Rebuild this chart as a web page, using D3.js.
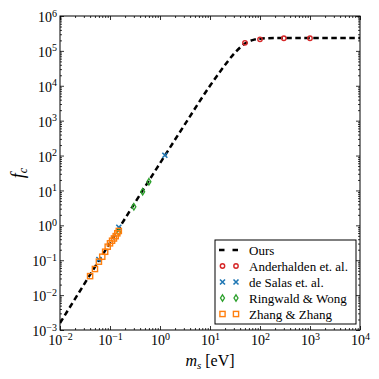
<!DOCTYPE html>
<html><head><meta charset="utf-8">
<script src="https://cdn.jsdelivr.net/npm/d3@7"></script>
<style>body{margin:0;background:#fff} svg{display:block}</style>
</head><body><svg id="c" width="379" height="379"></svg>
<script>
// ---- data ----
const curveM = [0.01, 0.0316, 0.1, 0.316, 1, 3.16, 10, 17.8, 31.6, 50, 70.8, 100, 200, 1000, 10000];
const curveF = [1.58e-3, 0.0224, 0.316, 4.47, 60.3, 794, 1.0e4, 3.16e4, 8.9e4, 1.62e5, 2.04e5, 2.24e5, 2.34e5, 2.34e5, 2.34e5];

const anderM = [50, 100, 300, 1000];
const anderF = [1.7e5, 2.15e5, 2.3e5, 2.3e5];

const salasM = [0.06, 0.15, 1.25];
const salasF = [0.105, 0.88, 102];

const rwM = [0.15, 0.3, 0.45, 0.6];
const rwF = [0.63, 3.4, 9.2, 17.8];

const zzM = [0.04, 0.05, 0.06, 0.07, 0.08, 0.09, 0.10, 0.11, 0.12, 0.13, 0.14, 0.15];
const zzF = [0.035, 0.056, 0.091, 0.126, 0.175, 0.244, 0.305, 0.362, 0.42, 0.49, 0.59, 0.69];

const xTicks = [1e-2, 1e-1, 1, 10, 100, 1000, 1e4];
const xExp = ["\u22122", "\u22121", "0", "1", "2", "3", "4"];
const yTicks = [1e-3, 1e-2, 1e-1, 1, 10, 100, 1000, 1e4, 1e5, 1e6];
const yExp = ["\u22123", "\u22122", "\u22121", "0", "1", "2", "3", "4", "5", "6"];

const legendLabels = ["Ours", "Anderhalden et. al.", "de Salas et. al.", "Ringwald & Wong", "Zhang & Zhang"];
const colors = {red: "#d62728", blue: "#1f77b4", green: "#2ca02c", orange: "#ff7f0e"};

// ---- layout ----
const L = 60, R = 360, T = 16, B = 330;
const FONT = "'Liberation Serif', 'DejaVu Serif', serif";
const svg = d3.select("#c");
const x = d3.scaleLog().domain([1e-2, 1e4]).range([L, R]);
const y = d3.scaleLog().domain([1e-3, 1e6]).range([B, T]);

const xMinor = x.ticks().filter(v => !xTicks.some(t => Math.abs(t - v) / t < 1e-9));
const yMinor = y.ticks().filter(v => !yTicks.some(t => Math.abs(t - v) / t < 1e-9));

function styleAxis(g) {
  g.select(".domain").remove();
  g.selectAll("line").attr("stroke", "#000").attr("stroke-width", 0.8);
}

// minor ticks, all four sides
svg.append("g").attr("transform", `translate(0,${B})`).call(d3.axisBottom(x).tickValues(xMinor).tickSize(-2).tickFormat("")).call(styleAxis);
svg.append("g").attr("transform", `translate(0,${T})`).call(d3.axisTop(x).tickValues(xMinor).tickSize(-2).tickFormat("")).call(styleAxis);
svg.append("g").attr("transform", `translate(${L},0)`).call(d3.axisLeft(y).tickValues(yMinor).tickSize(-2).tickFormat("")).call(styleAxis);
svg.append("g").attr("transform", `translate(${R},0)`).call(d3.axisRight(y).tickValues(yMinor).tickSize(-2).tickFormat("")).call(styleAxis);
// major ticks
svg.append("g").attr("transform", `translate(0,${T})`).call(d3.axisTop(x).tickValues(xTicks).tickSize(-4).tickFormat("")).call(styleAxis);
svg.append("g").attr("transform", `translate(${R},0)`).call(d3.axisRight(y).tickValues(yTicks).tickSize(-4).tickFormat("")).call(styleAxis);

const gx = svg.append("g").attr("transform", `translate(0,${B})`)
  .call(d3.axisBottom(x).tickValues(xTicks).tickSize(-4).tickPadding(5).tickFormat(""));
styleAxis(gx);
gx.selectAll(".tick text").each(function(d, i) {
  const t = d3.select(this).attr("font-family", FONT).attr("font-size", 14).attr("fill", "#000")
    .attr("dy", "0.71em").attr("text-anchor", "middle");
  t.text(null);
  t.append("tspan").text("10");
  t.append("tspan").attr("font-size", 10).attr("dy", "-0.45em").text(xExp[i]);
});

const gy = svg.append("g").attr("transform", `translate(${L},0)`)
  .call(d3.axisLeft(y).tickValues(yTicks).tickSize(-4).tickPadding(3).tickFormat(""));
styleAxis(gy);
gy.selectAll(".tick text").each(function(d, i) {
  const t = d3.select(this).attr("font-family", FONT).attr("font-size", 14).attr("fill", "#000")
    .attr("dy", "0.4em").attr("text-anchor", "end");
  t.text(null);
  t.append("tspan").text("10");
  t.append("tspan").attr("font-size", 10).attr("dy", "-0.55em").text(yExp[i]);
});

// frame
svg.append("rect").attr("x", L).attr("y", T).attr("width", R - L).attr("height", B - T)
  .attr("fill", "none").attr("stroke", "#000").attr("stroke-width", 1);

// plot clip
svg.append("clipPath").attr("id", "clip").append("rect").attr("x", L).attr("y", T).attr("width", R - L).attr("height", B - T);
const plot = svg.append("g").attr("clip-path", "url(#clip)");

// curve
const curveData = curveM.map((m, i) => [m, curveF[i]]);
plot.append("path").datum(curveData)
  .attr("d", d3.line().x(d => x(d[0])).y(d => y(d[1])).curve(d3.curveMonotoneX))
  .attr("fill", "none").attr("stroke", "#000").attr("stroke-width", 2.5).attr("stroke-dasharray", "5.5,3.5");

// marker drawers
function circleM(g, cx, cy) {
  g.append("circle").attr("cx", cx).attr("cy", cy).attr("r", 2.2)
    .attr("fill", "none").attr("stroke", colors.red).attr("stroke-width", 1.4);
}
function crossM(g, cx, cy) {
  const s = 2.5;
  g.append("path").attr("d", `M${cx - s},${cy - s}L${cx + s},${cy + s}M${cx - s},${cy + s}L${cx + s},${cy - s}`)
    .attr("stroke", colors.blue).attr("stroke-width", 1.6).attr("fill", "none");
}
function diamondM(g, cx, cy) {
  const w = 2, h = 3.2;
  g.append("path").attr("d", `M${cx},${cy - h}L${cx + w},${cy}L${cx},${cy + h}L${cx - w},${cy}Z`)
    .attr("stroke", colors.green).attr("stroke-width", 1.3).attr("fill", "none");
}
function squareM(g, cx, cy) {
  const s = 2.6;
  g.append("rect").attr("x", cx - s).attr("y", cy - s).attr("width", 2 * s).attr("height", 2 * s)
    .attr("stroke", colors.orange).attr("stroke-width", 1.4).attr("fill", "none");
}

const mk = plot.append("g");
anderM.forEach((m, i) => circleM(mk, x(m), y(anderF[i])));
salasM.forEach((m, i) => crossM(mk, x(m), y(salasF[i])));
rwM.forEach((m, i) => diamondM(mk, x(m), y(rwF[i])));
zzM.forEach((m, i) => squareM(mk, x(m), y(zzF[i])));

// legend
const lg = svg.append("g");
lg.append("rect").attr("x", 215).attr("y", 240).attr("width", 141).attr("height", 84)
  .attr("fill", "#fff").attr("stroke", "#000").attr("stroke-width", 1);
const rowY = i => 250 + i * 16;
lg.append("line").attr("x1", 219).attr("x2", 240).attr("y1", rowY(0)).attr("y2", rowY(0))
  .attr("stroke", "#000").attr("stroke-width", 2.5).attr("stroke-dasharray", "5.5,8");
[222.5, 236].forEach(cx => {
  circleM(lg, cx, rowY(1));
  crossM(lg, cx, rowY(2));
  diamondM(lg, cx, rowY(3));
  squareM(lg, cx, rowY(4));
});
legendLabels.forEach((t, i) => {
  lg.append("text").attr("x", 249).attr("y", rowY(i)).attr("dy", "0.35em")
    .attr("font-family", FONT).attr("font-size", 13).attr("fill", "#000").text(t);
});

// axis labels
const xl = svg.append("text").attr("x", 210).attr("y", 366).attr("text-anchor", "middle")
  .attr("font-family", FONT).attr("font-size", 16).attr("fill", "#000");
xl.append("tspan").attr("font-style", "italic").text("m");
xl.append("tspan").attr("font-style", "italic").attr("font-size", 11).attr("dy", "0.25em").text("s");
xl.append("tspan").attr("dy", "-0.18em").text(" [eV]");

const yl = svg.append("text").attr("transform", `translate(24,${(T + B) / 2}) rotate(-90)`).attr("text-anchor", "middle")
  .attr("font-family", FONT).attr("font-size", 18).attr("fill", "#000");
yl.append("tspan").attr("font-style", "italic").text("f");
yl.append("tspan").attr("font-style", "italic").attr("font-size", 12).attr("dy", "0.25em").text("c");
</script>
</body></html>
